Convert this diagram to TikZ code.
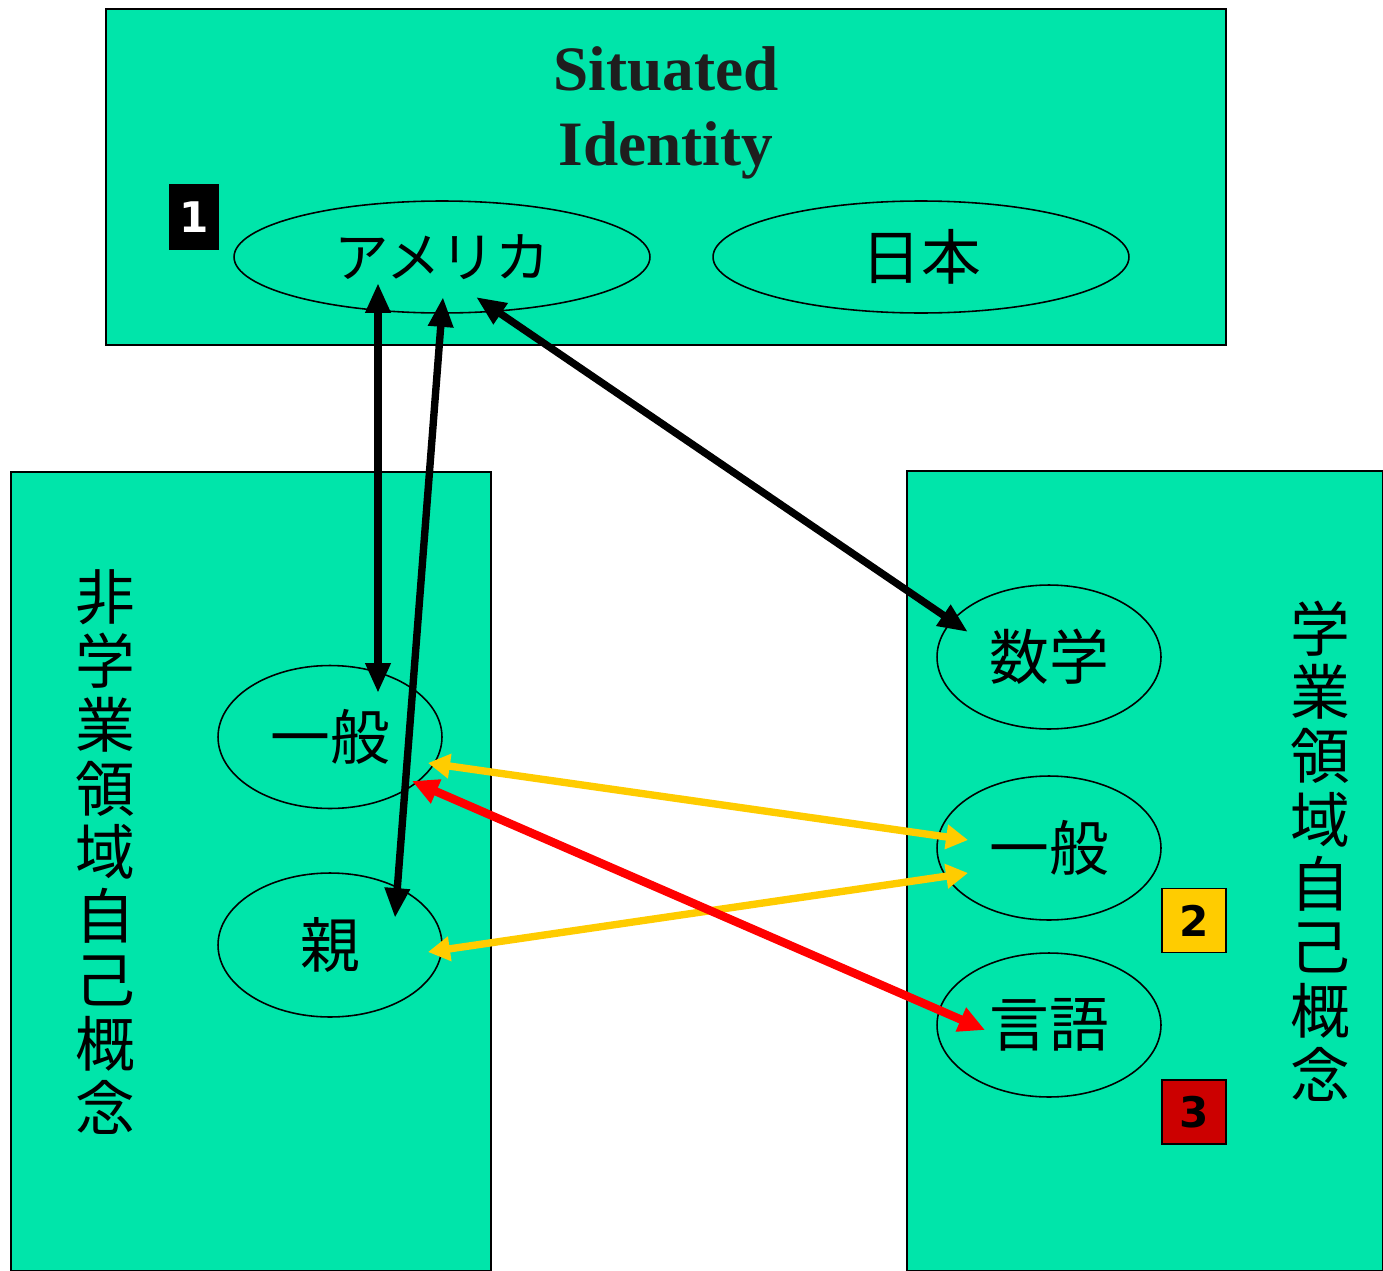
\documentclass[tikz,border=0pt]{standalone}
\usepackage{fontspec}
\setmainfont{Liberation Serif}
\newfontfamily\cjk{Noto Sans CJK JP}
\newfontfamily\badgefont{DejaVu Sans}
\usetikzlibrary{shapes.geometric,arrows.meta,calc}
\definecolor{panelgreen}{HTML}{00E5AA}
\definecolor{titlegray}{HTML}{1E1E1E}
\definecolor{linkyellow}{HTML}{FFCC00}
\definecolor{linkred}{HTML}{FF0000}
\definecolor{badgered}{HTML}{CC0000}

\begin{document}
\begin{tikzpicture}[x=0.02cm, y=-0.02cm,
  panel/.style={rectangle, draw=black, line width=0.8pt, fill=panelgreen, inner sep=0pt},
  bubble/.style={ellipse, draw=black, line width=0.9pt, inner sep=0pt,
                 minimum width=#1, font=\cjk\fontsize{34}{36}\selectfont},
  bubble/.default=4.48cm,
  vlabel/.style={align=center, font=\cjk\fontsize{34}{36.3}\selectfont, inner sep=0pt},
  badge/.style={rectangle, draw=black, line width=0.8pt, fill=#1, inner sep=0pt,
                minimum width=1.28cm, minimum height=1.28cm,
                font=\badgefont\bfseries\fontsize{24}{24}\selectfont},
  blk/.style={draw=black, line width=4.2pt, {Triangle[length=17pt,width=13.5pt]}-{Triangle[length=17pt,width=13.5pt]}},
  ylw/.style={draw=linkyellow, line width=4.2pt, {Triangle[length=12.5pt,width=13.5pt]}-{Triangle[length=12.5pt,width=13.5pt]}},
  rd/.style={draw=linkred, line width=4.8pt, {Triangle[length=15pt,width=14pt]}-{Triangle[length=15pt,width=14pt]}},
]
  \useasboundingbox (0,0) rectangle (1383,1271);
  \fill[white] (0,0) rectangle (1383,1271);

  % panels
  \node[panel, minimum width=22.4cm, minimum height=6.72cm] (sit) at (666,177) {};
  \node[panel, minimum width=9.6cm, minimum height=15.98cm] (nonacad) at (251,871.5) {};
  \node[panel, minimum width=9.52cm, minimum height=16cm] (acad) at (1145,871) {};

  \node[align=center, text=titlegray, font=\bfseries\fontsize{36}{42.5}\selectfont] (title) at (666,113)
    {Situated\\Identity};

  % identities
  \node[bubble=8.32cm, minimum height=2.24cm, font=\cjk\fontsize{31}{34}\selectfont] (ame) at (442,257) {アメリカ};
  \node[bubble=8.32cm, minimum height=2.24cm] (jpn) at (921,257) {日本};

  % self-concepts
  \node[bubble, minimum height=2.86cm] (lgen) at (330,737) {一般};
  \node[bubble, minimum height=2.88cm] (oya) at (330,945) {親};
  \node[bubble, minimum height=2.88cm] (suu) at (1049,657) {数学};
  \node[bubble, minimum height=2.88cm] (rgen) at (1049,848) {一般};
  \node[bubble, minimum height=2.88cm] (gen) at (1049,1025) {言語};

  \node[vlabel] (lvert) at (105,852) {非\\学\\業\\領\\域\\自\\己\\概\\念};
  \node[vlabel] (rvert) at (1320,851) {学\\業\\領\\域\\自\\己\\概\\念};

  % badges
  \node[badge=black, text=white, minimum width=0.96cm] (b1) at (194,217) {1};
  \node[badge=linkyellow] (b2) at (1194,920.5) {2};
  \node[badge=badgered] (b3) at (1194,1112) {3};

  % links
  \draw[blk] ($(ame)+(-64,26)$) -- ($(lgen)+(48,-44)$);
  \draw[blk] ($(ame)+(1,40)$) -- ($(oya)+(65,-27)$);
  \draw[blk] ($(ame)+(34,40)$) -- ($(suu)+(-81,-25)$);
  \draw[ylw] ($(lgen)+(98,26)$) -- ($(rgen)+(-81,-8)$);
  \draw[ylw] ($(oya)+(98,7)$) -- ($(rgen)+(-81,25)$);
  \draw[rd] ($(lgen)+(82,44)$) -- ($(gen)+(-64,5)$);
\end{tikzpicture}
\end{document}
